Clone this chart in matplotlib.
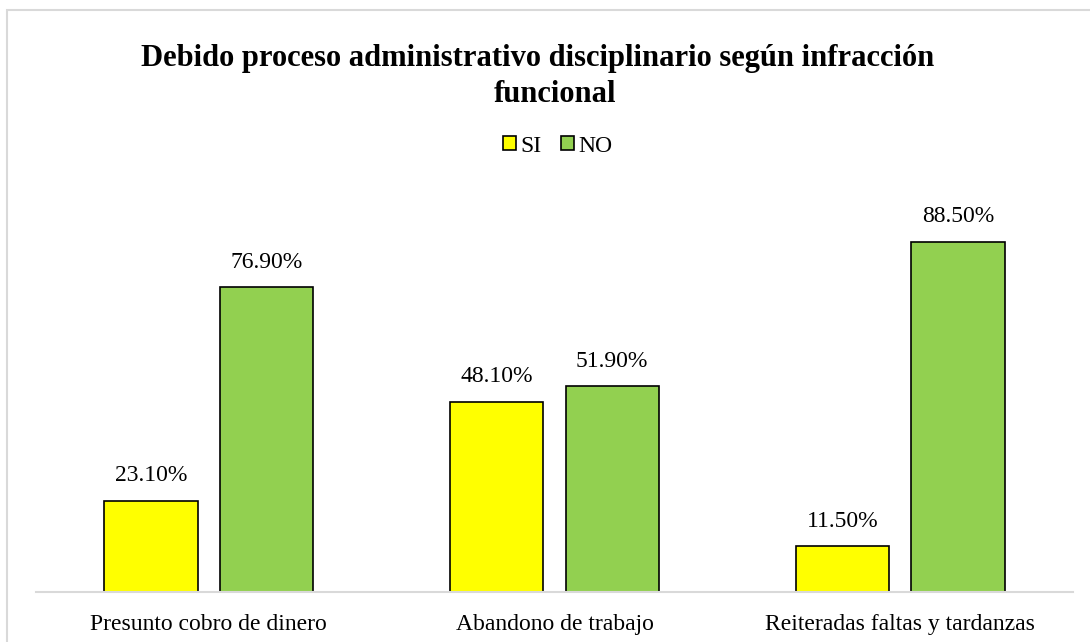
import numpy as np
import matplotlib.pyplot as plt
from matplotlib.patches import Patch, Rectangle

categories = ["Presunto cobro de dinero", "Abandono de trabajo", "Reiteradas faltas y tardanzas"]
si_values = [23.1, 48.1, 11.5]
no_values = [76.9, 51.9, 88.5]
series_names = ["SI", "NO"]
title_lines = ["Debido proceso administrativo disciplinario según infracción", "funcional"]

plt.rcParams["font.family"] = ["Liberation Serif", "DejaVu Serif"]

fig = plt.figure(figsize=(10.9, 6.42), dpi=100)
ax = fig.add_axes([36 / 1090, 1 - 592 / 642, 1037 / 1090, 396 / 642])

x = np.arange(len(categories))
w = 0.27
off = 0.167
bars_si = ax.bar(x - off, si_values, w, color="#FFFF00", edgecolor="black", linewidth=1.2)
bars_no = ax.bar(x + off, no_values, w, color="#92D050", edgecolor="black", linewidth=1.2)

for bars, vals in [(bars_si, si_values), (bars_no, no_values)]:
    for b, v in zip(bars, vals):
        ax.annotate(f"{v:.2f}%", (b.get_x() + b.get_width() / 2, v),
                    xytext=(0, 18), textcoords="offset points",
                    ha="center", va="center", fontsize=17)

ax.set_xlim(-0.5, 2.5)
ax.set_ylim(0, 100)
ax.set_xticks(x)
ax.set_xticklabels(categories, fontsize=17)
ax.tick_params(axis="x", length=0, pad=16)
ax.set_yticks([])
for s in ["top", "right", "left"]:
    ax.spines[s].set_visible(False)
ax.spines["bottom"].set_color("#D9D9D9")
ax.spines["bottom"].set_linewidth(1.5)

# title, two centred lines
fig.text(538 / 1090, 1 - 66 / 642, title_lines[0], ha="center", va="baseline",
         fontsize=22, fontweight="bold")
fig.text(555 / 1090, 1 - 102 / 642, title_lines[1], ha="center", va="baseline",
         fontsize=22, fontweight="bold")

handles = [Patch(facecolor="#FFFF00", edgecolor="black", linewidth=1.2),
           Patch(facecolor="#92D050", edgecolor="black", linewidth=1.2)]
fig.legend(handles, series_names, loc="center", bbox_to_anchor=(558 / 1090, 1 - 146 / 642),
           ncol=2, frameon=False, fontsize=17, handlelength=0.55, handleheight=0.55,
           handletextpad=0.2, columnspacing=0.8)

# chart border
fig.patches.append(Rectangle((7 / 1090, -0.1), 1.1, 1.1 - 10 / 642,
                             transform=fig.transFigure, fill=False,
                             edgecolor="#D9D9D9", linewidth=1.5))

fig.savefig("out.png", dpi=100)
